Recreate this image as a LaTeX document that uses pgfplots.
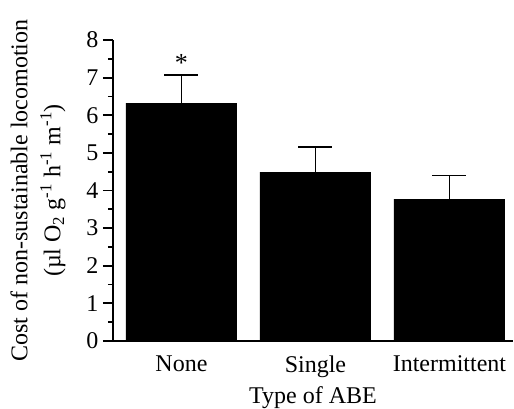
\documentclass[border=0pt]{standalone}
\usepackage{pgfplots}
\pgfplotsset{compat=1.18}
\usepackage{fontspec}
\setmainfont{Liberation Serif}
\begin{document}
\begin{tikzpicture}[x=1pt,y=1pt]
\path[use as bounding box] (0,0) rectangle (514,408);
\begin{axis}[
  at={(113pt,67pt)}, anchor=south west,
  scale only axis,
  width=400pt, height=301pt,
  xmin=-0.511, xmax=2.474,
  ymin=0, ymax=8,
  axis lines*=left,
  axis line style={line width=1.8pt},
  ytick={0,1,...,8},
  minor ytick={0.5,1.5,...,7.5},
  tick align=outside,
  major tick length=10pt,
  minor tick length=5pt,
  every tick/.style={line width=1.8pt, black},
  xtick={0,1,2},
  xticklabels={None,Single,Intermittent},
  x tick style={draw=none},
  ticklabel style={font=\fontsize{24}{28}\selectfont},
  /pgf/number format/assume math mode=true,
  yticklabel style={xshift=-1pt},
  xticklabel style={yshift=-1pt},
  xlabel={Type of ABE},
  xlabel style={font=\fontsize{24}{28}\selectfont, yshift=-2pt},
  ylabel={Cost of non-sustainable locomotion\\(µl O\textsubscript{2} g\textsuperscript{-1} h\textsuperscript{-1} m\textsuperscript{-1})},
  ylabel style={align=center, font=\fontsize{24}{33}\selectfont,
    at={(axis description cs:-0.11,0.5)}, anchor=south},
  clip=false,
]
\addplot[ybar, bar width=111pt, fill=black, draw=none,
  error bars/.cd, y dir=plus, y explicit,
  error bar style={line width=1.8pt, black},
  error mark options={rotate=90, mark size=17pt, line width=1.8pt, black}]
  coordinates {(0,6.32) +- (0,0.76) (1,4.49) +- (0,0.67) (2,3.77) +- (0,0.63)};
\node[font=\fontsize{26}{28}\selectfont] at (axis cs:0,7.38) {*};
\end{axis}
\end{tikzpicture}
\end{document}
